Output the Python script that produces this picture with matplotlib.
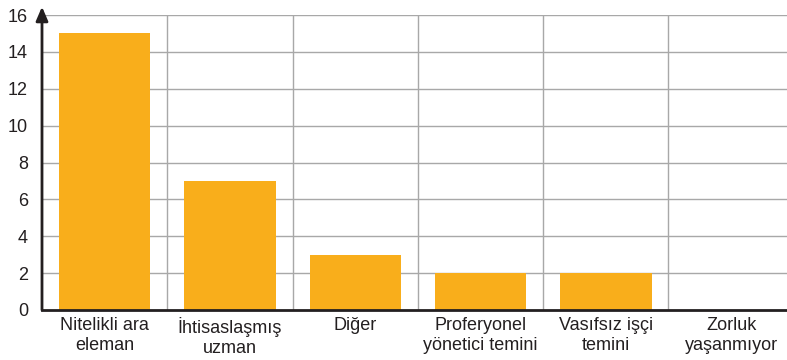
import matplotlib.pyplot as plt
from matplotlib import font_manager

categories = ["Nitelikli ara\neleman", "İhtisaslaşmış\nuzman", "Diğer",
              "Proferyonel\nyönetici temini", "Vasıfsız işçi\ntemini", "Zorluk\nyaşanmıyor"]
values = [15, 7, 3, 2, 2, 0]
yticks = [0, 2, 4, 6, 8, 10, 12, 14, 16]

names = {f.name for f in font_manager.fontManager.ttflist}
fam = "Liberation Sans Narrow" if "Liberation Sans Narrow" in names else "Liberation Sans"
plt.rcParams["font.family"] = [fam, "DejaVu Sans"]

fig = plt.figure(figsize=(7.87, 3.6), dpi=100)
ax = fig.add_axes([42 / 787, 50 / 360, 745 / 787, 295 / 360])

x = range(len(categories))
ax.bar(x, values, width=0.73, color="#F9AE1B", zorder=3)

ax.set_xlim(-0.5, 745 / 125.3 - 0.5)
ax.set_ylim(0, 16)
ax.set_yticks(yticks)
ax.set_xticks(list(x))
ax.set_xticklabels(categories, fontsize=13, color="#231f20", linespacing=1.25)
ax.tick_params(axis="y", labelsize=13, length=0, pad=10, colors="#231f20")
ax.tick_params(axis="x", length=0, pad=5)

# grid: horizontal at ticks, vertical at category boundaries
for y in yticks[1:]:
    ax.axhline(y, color="#a8a8a8", lw=1, zorder=1)
for b in range(1, len(categories)):
    ax.axvline(b - 0.5, color="#a8a8a8", lw=1, zorder=1)

for s in ["top", "right", "left"]:
    ax.spines[s].set_visible(False)
ax.spines["bottom"].set_color("#231f20")
ax.spines["bottom"].set_linewidth(2)
ax.spines["bottom"].set_zorder(4)

# y axis with arrow
ax.annotate("", xy=(-0.5, 16.45), xytext=(-0.5, 0), xycoords="data",
            arrowprops=dict(arrowstyle="-|>,head_width=0.3,head_length=0.7",
                            color="#231f20", lw=2,
                            mutation_scale=12, shrinkA=0, shrinkB=0),
            annotation_clip=False, zorder=5)

fig.savefig("out.png", dpi=100)
